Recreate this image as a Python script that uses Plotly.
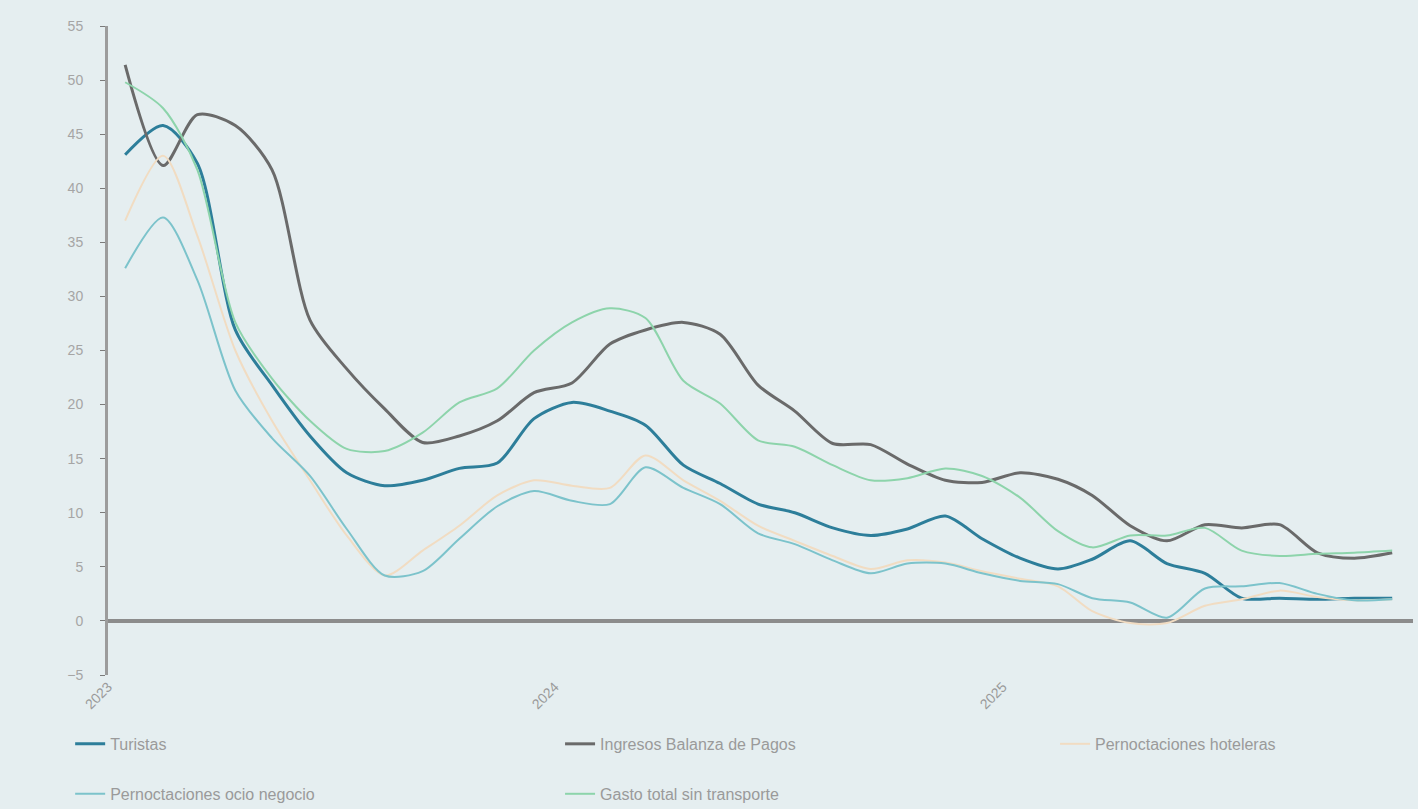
import plotly.graph_objects as go

# monthly points (mid-month), Jan 2023 .. Nov 2025
fechas = []
for anio in [2023, 2024, 2025]:
    for mes in range(1, 13):
        fechas.append(f"{anio}-{mes:02d}-15")
fechas = fechas[:35]

turistas = [43.1, 45.8, 42.3, 26.9, 21.8, 17.1, 13.7, 12.5, 13.0, 14.1, 14.6, 18.7,
            20.2, 19.4, 18.1, 14.4, 12.7, 10.8, 10.0, 8.6, 7.9, 8.5, 9.7, 7.6,
            5.8, 4.8, 5.7, 7.4, 5.3, 4.4, 2.1, 2.1, 2.0, 2.1, 2.1]

ingresos = [51.4, 42.1, 46.8, 45.8, 41.7, 27.8, 23.3, 19.6, 16.5, 17.1, 18.5, 21.1,
            22.0, 25.6, 26.9, 27.6, 26.5, 21.8, 19.4, 16.4, 16.3, 14.5, 13.0, 12.8,
            13.7, 13.1, 11.6, 8.8, 7.4, 8.9, 8.6, 8.9, 6.3, 5.8, 6.3]

hoteleras = [37.0, 43.0, 35.6, 25.0, 18.5, 13.0, 7.9, 4.2, 6.5, 8.8, 11.6, 13.0,
             12.5, 12.3, 15.3, 13.0, 11.1, 8.8, 7.4, 6.0, 4.8, 5.6, 5.4, 4.6,
             3.9, 3.2, 0.9, -0.2, -0.2, 1.4, 2.0, 2.8, 2.2, 1.9, 2.0]

ocio_negocio = [32.6, 37.3, 31.5, 21.3, 16.9, 13.4, 8.5, 4.2, 4.6, 7.6, 10.6, 12.0,
                11.1, 10.8, 14.2, 12.3, 10.8, 8.1, 7.1, 5.6, 4.4, 5.3, 5.3, 4.4,
                3.7, 3.4, 2.1, 1.7, 0.3, 3.0, 3.2, 3.5, 2.5, 1.9, 2.0]

gasto = [49.8, 47.4, 41.7, 27.6, 22.4, 18.5, 15.9, 15.7, 17.4, 20.2, 21.5, 25.0,
         27.6, 28.9, 28.0, 22.2, 20.1, 16.7, 16.1, 14.4, 13.0, 13.2, 14.1, 13.4,
         11.4, 8.3, 6.8, 7.9, 7.9, 8.6, 6.5, 6.0, 6.2, 6.3, 6.5]

# name, values, colour, width, legend id
series = [
    ("Turistas", turistas, "#2d7e9a", 3, "legend"),
    ("Ingresos Balanza de Pagos", ingresos, "#6a6a6a", 3, "legend2"),
    ("Pernoctaciones hoteleras", hoteleras, "#f1dcc2", 2, "legend3"),
    ("Pernoctaciones ocio negocio", ocio_negocio, "#7cc3cb", 2, "legend4"),
    ("Gasto total sin transporte", gasto, "#8dd4ab", 2, "legend5"),
]

fig = go.Figure()
for nombre, vals, col, w, leg in series:
    fig.add_trace(go.Scatter(
        x=fechas, y=vals, name=nombre, mode="lines",
        line=dict(color=col, width=w, shape="spline", smoothing=0.8),
        legend=leg,
    ))

bg = "#e5eef0"
legend_font = dict(family="Liberation Sans, Arial", size=16, color="#9a9a9a")

def leyenda(x, y):
    return dict(orientation="h", x=x, xanchor="left", y=y, yanchor="top",
                font=legend_font, bgcolor="rgba(0,0,0,0)")

fig.update_layout(
    width=1418, height=809,
    paper_bgcolor=bg, plot_bgcolor=bg,
    margin=dict(l=108, r=5, t=26, b=134, autoexpand=False),
    font=dict(family="Liberation Sans, Arial", color="#a0a0a0"),
    xaxis=dict(
        range=["2023-01-01", "2025-12-02"],
        tickformat="%Y", dtick="M12", tick0="2023-01-01",
        tickangle=-45, showgrid=False, showline=False, zeroline=False,
        tickfont=dict(size=14, color="#9a9a9a"),
    ),
    yaxis=dict(
        range=[-5, 55], dtick=5, showgrid=False,
        showline=True, linecolor="#9c9c9c", linewidth=3,
        ticks="outside", ticklen=5, tickcolor="#7a7a7a", ticklabelstandoff=14,
        zeroline=True, zerolinecolor="#8c8c8c", zerolinewidth=4,
        tickfont=dict(size=14, color="#a5a5a5"),
    ),
    legend=leyenda(-0.029, -0.080),
    legend2=leyenda(0.3464, -0.080),
    legend3=leyenda(0.7257, -0.080),
    legend4=leyenda(-0.029, -0.157),
    legend5=leyenda(0.3464, -0.157),
    showlegend=True,
)

fig.write_html("out.html", config={"displayModeBar": False},
               post_script="document.body.style.margin='0';")
